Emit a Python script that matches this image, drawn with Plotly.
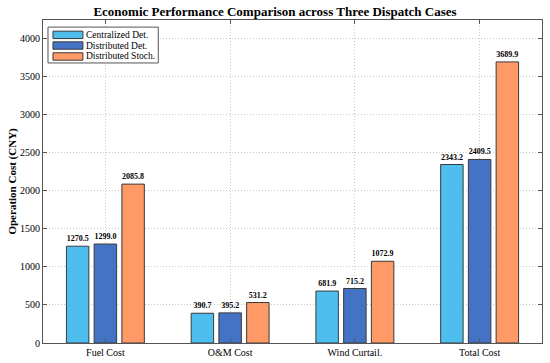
import plotly.graph_objects as go

categories = ["Fuel Cost", "O&M Cost", "Wind Curtail.", "Total Cost"]
centralized_det = [1270.5, 390.7, 681.9, 2343.2]
distributed_det = [1299.0, 395.2, 715.2, 2409.5]
distributed_stoch = [2085.8, 531.2, 1072.9, 3689.9]
series_names = ["Centralized Det.", "Distributed Det.", "Distributed Stoch."]
colors = ["#4DBEEE", "#4472C4", "#FF9966"]

FONT = "Liberation Serif"
EDGE = "#3a3a3a"

fig = go.Figure()
for name, vals, col in zip(series_names, [centralized_det, distributed_det, distributed_stoch], colors):
    fig.add_trace(go.Bar(
        x=categories, y=vals, name=name,
        marker=dict(color=col, line=dict(color=EDGE, width=1)),
        text=[f"{v:.1f}" for v in vals],
        textposition="outside",
        textfont=dict(family=FONT, size=8, color="black", weight="bold"),
        constraintext="none",
        cliponaxis=False,
        showlegend=False,
    ))

# Custom compact legend (box, swatches, labels) in paper coordinates
shapes = [dict(type="rect", xref="paper", yref="paper", x0=0.010, x1=0.231, y0=0.867, y1=0.978,
               fillcolor="white", line=dict(color="#555555", width=1), layer="above")]
annotations = []
row_y = [0.954, 0.921, 0.887]
for name, col, yc in zip(series_names, colors, row_y):
    shapes.append(dict(type="rect", xref="paper", yref="paper", x0=0.020, x1=0.080,
                       y0=yc - 0.0115, y1=yc + 0.0115, fillcolor=col,
                       line=dict(color=EDGE, width=1), layer="above"))
    annotations.append(dict(xref="paper", yref="paper", x=0.083, y=yc, xanchor="left", yanchor="middle",
                            text=name, showarrow=False,
                            font=dict(family=FONT, size=9.5, color="black")))

# y-axis title
annotations.append(dict(xref="paper", yref="paper", x=-0.062, y=0.5, xanchor="center", yanchor="middle",
                        text="<b>Operation Cost (CNY)</b>", textangle=-90, showarrow=False,
                        font=dict(family=FONT, size=11, color="black")))

GRID = "#c8c8c8"
fig.update_layout(
    width=550, height=363,
    margin=dict(l=43, r=8, t=20, b=20),
    paper_bgcolor="white", plot_bgcolor="white",
    barmode="group", bargap=0.333, bargroupgap=0.19,
    title=dict(text="<b>Economic Performance Comparison across Three Dispatch Cases</b>",
               x=0.5, xanchor="center", yref="container", y=1 - 11 / 363, yanchor="middle",
               font=dict(family=FONT, size=13, color="black")),
    font=dict(family=FONT, size=10, color="black"),
    shapes=shapes,
    annotations=annotations,
    xaxis=dict(range=[-0.5, 3.5], showgrid=True, gridcolor=GRID, griddash="1px,2px", gridwidth=1,
               showline=True, linecolor="#555555", linewidth=1, mirror="ticks",
               ticks="inside", ticklen=4, tickcolor="#555555", automargin=False,
               tickfont=dict(family=FONT, size=10, color="black")),
    yaxis=dict(range=[0, 4240], tickvals=list(range(0, 4001, 500)),
               showgrid=True, gridcolor=GRID, griddash="1px,2px", gridwidth=1,
               showline=True, linecolor="#555555", linewidth=1, mirror="ticks",
               ticks="inside", ticklen=4, tickcolor="#555555", zeroline=False, automargin=False,
               tickfont=dict(family=FONT, size=10, color="black")),
)

fig.write_html("out.html", config={"displayModeBar": False},
               post_script="document.body.style.margin='0';")
